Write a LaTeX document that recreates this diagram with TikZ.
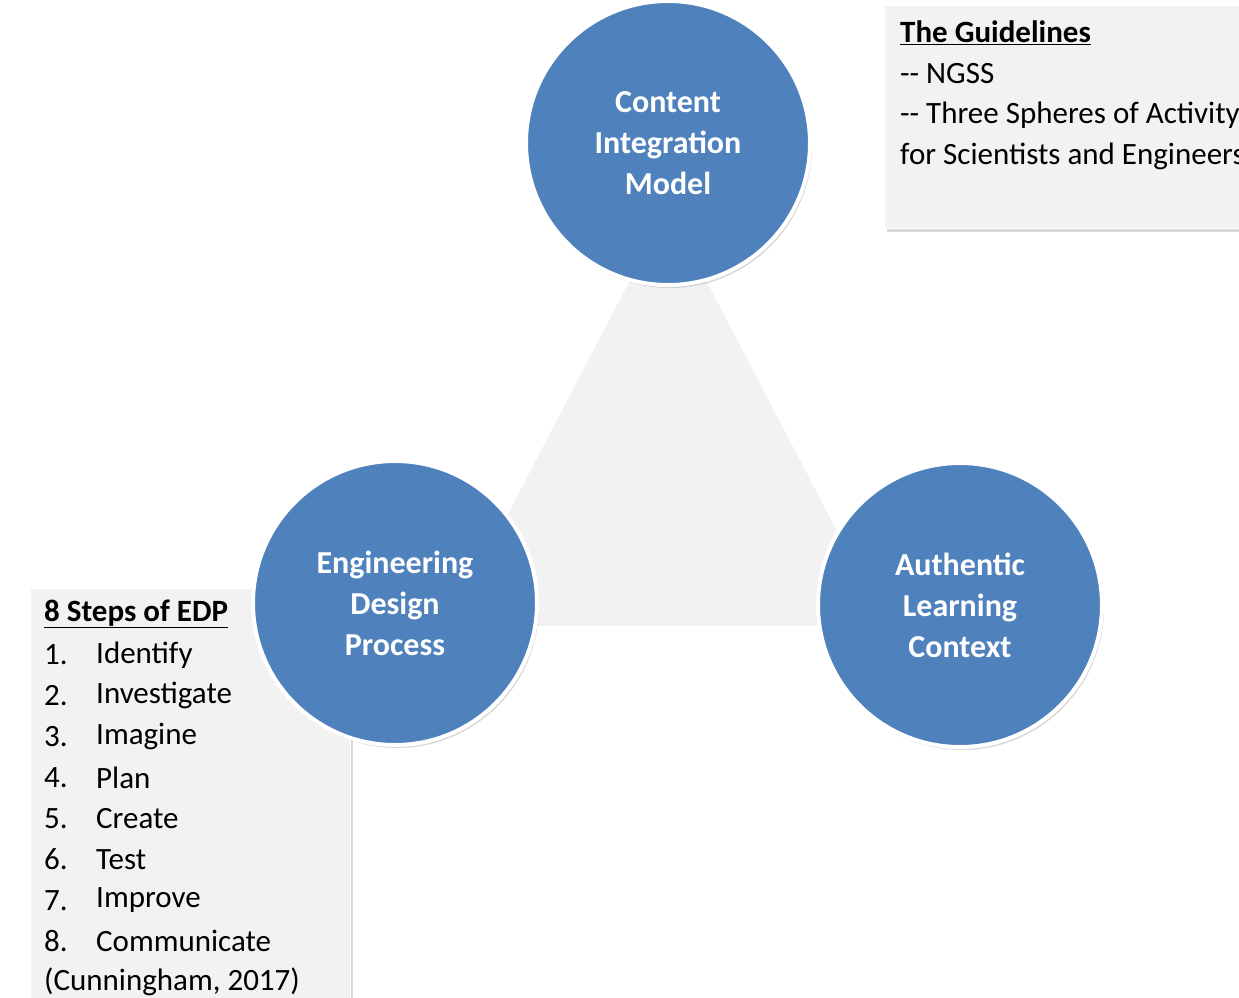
\documentclass[tikz,border=0pt]{standalone}
\usepackage{fontspec}
\setmainfont{Carlito}
\usetikzlibrary{shadows}
\definecolor{cblue}{HTML}{4F81BD}
\definecolor{boxg}{HTML}{F2F2F2}
\begin{document}
\begin{tikzpicture}[x=1pt,y=-1pt,
  circ/.style={circle,minimum size=284pt,inner sep=0pt,fill=cblue,draw=white,line width=4pt,
    drop shadow={shadow xshift=2pt,shadow yshift=-3pt,opacity=0.3},
    text=white,font=\fontsize{32}{41}\selectfont\bfseries,align=center},
  txt/.style={anchor=west,font=\fontsize{31}{41}\selectfont,inner sep=0pt}]
\useasboundingbox (0,0) rectangle (1239,997);
\fill[white] (0,0) rectangle (1239,997);
% triangle
\coordinate (T1) at (668,203);
\coordinate (T2) at (446,628);
\coordinate (T3) at (890,628);
\filldraw[fill=boxg,draw=white,line width=4pt,drop shadow={shadow xshift=1pt,shadow yshift=-2pt,opacity=0.25}] (T1) -- (T2) -- (T3) -- cycle;
% guidelines box
\begin{scope}
\clip (0,0) rectangle (1239,997);
\node[draw=white,fill=boxg,line width=1pt,drop shadow={shadow xshift=2pt,shadow yshift=-3pt,opacity=0.3},
  minimum width=400pt,minimum height=223pt,anchor=north west,inner sep=0pt] (gbox) at (884,5) {};
\node[txt] (g1) at (900,33) {\bfseries\underline{The Guidelines}};
\node[txt] (g2) at (900,74) {-{}- NGSS};
\node[txt] (g3) at (900,115) {-{}- Three Spheres of Activity};
\node[txt] (g4) at (900,156) {for Scientists and Engineers};
\end{scope}
% EDP box
\node[draw=white,fill=boxg,line width=1pt,drop shadow={shadow xshift=2pt,shadow yshift=-3pt,opacity=0.3},
  minimum width=320pt,minimum height=430pt,anchor=north west,inner sep=0pt] (ebox) at (30,588) {};
\node[txt] (e0) at (44,614) {\bfseries\underline{8 Steps of EDP}};
\foreach \n/\t [count=\i] in {1/Identify,2/Investigate,3/Imagine,4/Plan,5/Create,6/Test,7/Improve,8/Communicate}{
  \node[txt] (n\i) at (44,614+40.9*\i) {\n.};
  \node[txt] (t\i) at (96,614+40.9*\i) {\t};
}
\node[txt] (cit) at (44,982) {(Cunningham, 2017)};
% circles
\node[circ] (top) at (668,143) {Content\\Integration\\Model};
\node[circ] (left) at (395,603) {Engineering\\Design\\Process};
\node[circ] (right) at (960,605) {Authentic\\Learning\\Context};
\end{tikzpicture}
\end{document}
